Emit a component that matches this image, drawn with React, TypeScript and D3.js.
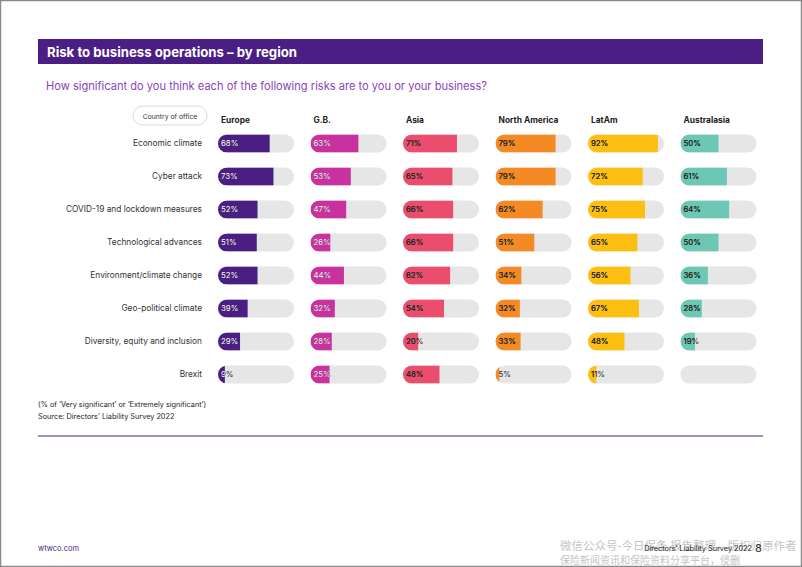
import React from "react";
import * as d3 from "d3";

const regions = ["Europe", "G.B.", "Asia", "North America", "LatAm", "Australasia"];
const risks = [
  "Economic climate",
  "Cyber attack",
  "COVID-19 and lockdown measures",
  "Technological advances",
  "Environment/climate change",
  "Geo-political climate",
  "Diversity, equity and inclusion",
  "Brexit",
];
const europe = [68, 73, 52, 51, 52, 39, 29, 9];
const gb = [63, 53, 47, 26, 44, 32, 28, 25];
const asia = [71, 65, 66, 66, 62, 54, 20, 48];
const northAmerica = [79, 79, 62, 51, 34, 32, 33, 5];
const latAm = [92, 72, 75, 65, 56, 67, 48, 11];
const australasia: (number | null)[] = [50, 61, 64, 50, 36, 28, 19, null];
const seriesValues = [europe, gb, asia, northAmerica, latAm, australasia];
const colors = ["#4a1e83", "#c9329e", "#eb4e6d", "#f38a23", "#fdc012", "#6cc7b4"];
const labelColors = ["#ffffff", "#ffffff", "#2a2a2a", "#2a2a2a", "#2a2a2a", "#2a2a2a"];

const W = 802;
const H = 567;

export default function App() {
  const colScale = d3.scaleBand<string>().domain(regions).range([218, 773]).paddingInner(0).paddingOuter(0);
  const rowScale = d3.scaleBand<string>().domain(risks).range([127, 391]).paddingInner(0.45).paddingOuter(0.225);
  const trackW = 76;
  const bh = rowScale.bandwidth();
  const x = d3.scaleLinear().domain([0, 100]).range([0, trackW]);
  const r = bh / 2;

  return (
    <div style={{ margin: 0 }}>
      <style>{`body{margin:0}`}</style>
      <svg width={W} height={H} style={{ display: "block", fontFamily: "Inter, 'Noto Sans', sans-serif" }}>
        <defs>
          {regions.map((reg, ci) =>
            risks.map((risk, ri) => {
              const v = seriesValues[ci][ri];
              return (
                <React.Fragment key={`${ci}-${ri}`}>
                  <clipPath id={`clip-${ci}-${ri}`}>
                    <rect x={0} y={0} width={trackW} height={bh} rx={r} ry={r} />
                  </clipPath>
                  <clipPath id={`fill-${ci}-${ri}`}>
                    <rect x={0} y={0} width={v == null ? 0 : x(v)} height={bh} />
                  </clipPath>
                </React.Fragment>
              );
            })
          )}
        </defs>
        <rect x={0.5} y={0.5} width={W - 1} height={H - 1} fill="#fff" stroke="#8a8a8a" strokeWidth={1.5} />

        <rect x={38} y={39} width={725} height={25} fill="#4a1e83" />
        <text x={47} y={56.5} fill="#fff" fontSize={13.2} fontWeight={700}>
          Risk to business operations – by region
        </text>
        <text x={46} y={89.5} fill="#8a44b8" fontSize={11.1}>
          How significant do you think each of the following risks are to you or your business?
        </text>

        <rect x={133} y={106} width={74} height={19} rx={9.5} fill="#fff" stroke="#dcdcdc" strokeWidth={1} />
        <text x={170} y={118.5} textAnchor="middle" fontSize={6.8} fill="#333">
          Country of office
        </text>

        {regions.map((reg) => (
          <text key={reg} x={(colScale(reg) as number) + 3} y={122.5} fontSize={8.4} fontWeight={700} fill="#222">
            {reg}
          </text>
        ))}

        {risks.map((risk) => (
          <text
            key={risk}
            x={202}
            y={(rowScale(risk) as number) + bh / 2}
            dy="0.35em"
            textAnchor="end"
            fontSize={8.3}
            fill="#333"
          >
            {risk}
          </text>
        ))}

        {regions.map((reg, ci) =>
          risks.map((risk, ri) => {
            const v = seriesValues[ci][ri];
            const tx = colScale(reg) as number;
            const ty = rowScale(risk) as number;
            return (
              <g key={`${reg}-${risk}`} transform={`translate(${tx},${ty})`}>
                <rect x={0} y={0} width={trackW} height={bh} rx={r} ry={r} fill="#e6e6e6" />
                {v != null && (
                  <g clipPath={`url(#clip-${ci}-${ri})`}>
                    <rect x={0} y={0} width={x(v)} height={bh} fill={colors[ci]} />
                  </g>
                )}
                {v != null && (
                  <>
                    <text x={3} y={bh / 2} dy="0.35em" fontSize={7.8} fill="#2a2a2a">
                      {`${v}%`}
                    </text>
                    <g clipPath={`url(#fill-${ci}-${ri})`}>
                      <text x={3} y={bh / 2} dy="0.35em" fontSize={7.8} fill={labelColors[ci]}>
                        {`${v}%`}
                      </text>
                    </g>
                  </>
                )}
              </g>
            );
          })
        )}

        <text x={38} y={407} fontSize={7.3} fill="#222">
          (% of ‘Very significant’ or ‘Extremely significant’)
        </text>
        <text x={38} y={419} fontSize={7.3} fill="#222">
          Source: Directors’ Liability Survey 2022
        </text>
        <line x1={38} x2={763} y1={436} y2={436} stroke="#4a1e83" strokeWidth={1} />

        <text x={38} y={551} fontSize={7.5} fill="#4a1e83">
          wtwco.com
        </text>
        <text x={560} y={550} fontSize={11.5} fill="#c4c4c4" fontFamily="'Noto Sans CJK SC', sans-serif">
          微信公众号-今日保条 报告整理，版权归原作者
        </text>
        <text x={560} y={564} fontSize={10} fill="#c4c4c4" fontFamily="'Noto Sans CJK SC', sans-serif">
          保险新闻资讯和保险资料分享平台，侵删
        </text>
        <text x={752} y={551} textAnchor="end" fontSize={7.3} fill="#222">
          Directors’ Liability Survey 2022
        </text>
        <text x={755} y={552} fontSize={11} fill="#333">
          8
        </text>
      </svg>
    </div>
  );
}
